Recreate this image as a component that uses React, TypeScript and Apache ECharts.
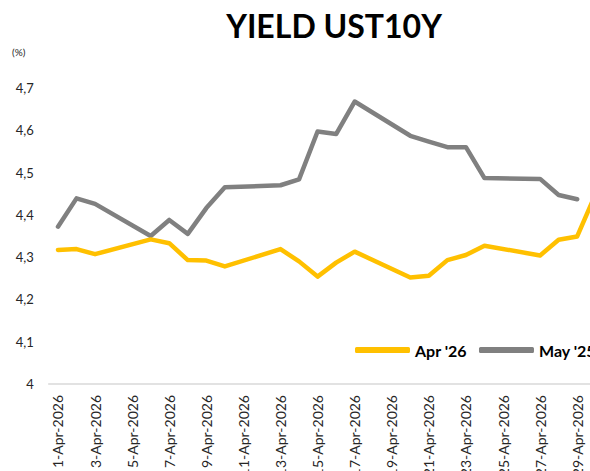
import React, { useEffect, useRef } from "react";
import * as echarts from "echarts";

const days: number[] = Array.from({ length: 30 }, (_, i) => i + 1);
const categories: string[] = days.map((d) => `${d}-Apr-2026`);

// null = non-trading day (weekend)
const apr26: (number | null)[] = [
  4.317, 4.319, 4.307, null, null, 4.342, 4.333, 4.293, 4.292, 4.278,
  null, null, 4.319, 4.29, 4.254, 4.287, 4.313, null, null, 4.252,
  4.256, 4.293, 4.305, 4.327, null, null, 4.304, 4.341, 4.349, 4.45,
];
const may25: (number | null)[] = [
  4.372, 4.439, 4.426, null, null, 4.35, 4.388, 4.355, 4.416, 4.465,
  null, null, 4.47, 4.484, 4.597, 4.591, 4.668, null, null, 4.587,
  4.573, 4.56, 4.56, 4.487, null, null, 4.485, 4.447, 4.437, null,
];
const yTicks = { min: 4, max: 4.7, interval: 0.1 };

const FONT = "Lato, 'Open Sans', sans-serif";

export default function App() {
  const ref = useRef<HTMLDivElement>(null);
  useEffect(() => {
    if (!ref.current) return;
    const chart = echarts.init(ref.current, undefined, { renderer: "svg" });
    chart.setOption({
      animation: false,
      textStyle: { fontFamily: FONT },
      title: {
        text: "YIELD UST10Y",
        left: 329,
        textAlign: "center",
        top: 4,
        textStyle: { fontSize: 32, fontWeight: "bold", color: "#000", fontFamily: FONT },
      },
      graphic: [
        {
          type: "text",
          left: 12,
          top: 47,
          style: { text: "(%)", fontSize: 10, fill: "#262626", fontFamily: FONT },
        },
      ],
      legend: {
        left: 350,
        top: 337,
        itemWidth: 55,
        itemHeight: 6,
        itemGap: 12,
        icon: "roundRect",
        textStyle: { fontSize: 16, fontWeight: "bold", color: "#000", fontFamily: FONT },
        data: ["Apr '26", "May '25"],
      },
      grid: { left: 48.7, right: 55, top: 88, bottom: 116 },
      xAxis: {
        type: "category",
        data: categories,
        boundaryGap: true,
        axisLine: { lineStyle: { color: "#d9d9d9", width: 1.5 } },
        axisTick: { show: false },
        axisLabel: {
          interval: 1,
          rotate: 90,
          margin: 11,
          fontSize: 14,
          color: "#262626",
          fontFamily: FONT,
        },
      },
      yAxis: {
        type: "value",
        min: yTicks.min,
        max: yTicks.max,
        interval: yTicks.interval,
        splitLine: { show: false },
        axisLine: { show: false },
        axisTick: { show: false },
        axisLabel: {
          fontSize: 13,
          color: "#262626",
          margin: 15,
          fontFamily: FONT,
          formatter: (v: number) => (Math.round(v * 10) / 10).toString().replace(".", ","),
        },
      },
      series: [
        {
          name: "Apr '26",
          type: "line",
          data: apr26,
          connectNulls: true,
          symbol: "none",
          itemStyle: { color: "#FFC000" },
          lineStyle: { color: "#FFC000", width: 4.5, cap: "round", join: "round" },
          z: 3,
        },
        {
          name: "May '25",
          type: "line",
          data: may25,
          connectNulls: true,
          symbol: "none",
          itemStyle: { color: "#808080" },
          lineStyle: { color: "#808080", width: 4.5, cap: "round", join: "round" },
          z: 2,
        },
      ],
    });
    return () => chart.dispose();
  }, []);
  return (
    <div
      style={{
        position: "fixed",
        left: 0,
        top: 0,
        width: 590,
        height: 471,
        overflow: "hidden",
        background: "#fff",
      }}
    >
      <div ref={ref} style={{ width: 660, height: 500 }} />
    </div>
  );
}
